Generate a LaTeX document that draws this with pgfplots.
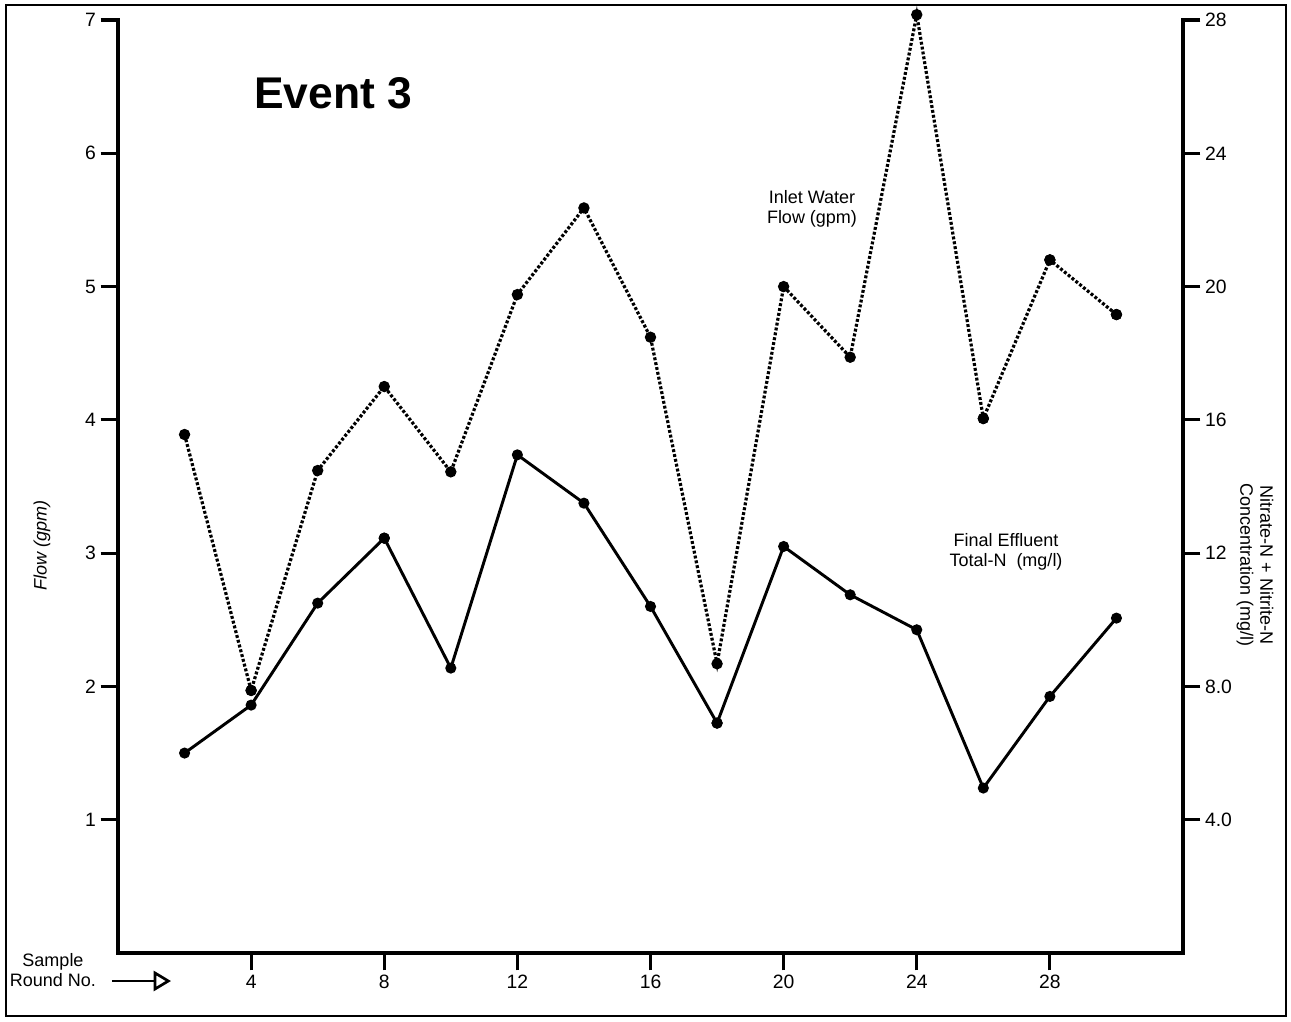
\documentclass[border=0pt]{standalone}
\usepackage{fontspec}
\setmainfont{Liberation Sans}
\usepackage{pgfplots}
\usepackage{pgfplotstable}
\pgfplotsset{compat=1.18}
\usetikzlibrary{arrows.meta}

\pgfplotstableread{
x y
2 3.89
4 1.97
6 3.62
8 4.25
10 3.61
12 4.94
14 5.59
16 4.62
18 2.17
20 5.00
22 4.47
24 7.04
26 4.01
28 5.20
30 4.79
}\inlet

\pgfplotstableread{
x y
2 6.0
4 7.44
6 10.5
8 12.45
10 8.55
12 14.95
14 13.5
16 10.4
18 6.9
20 12.2
22 10.75
24 9.7
26 4.95
28 7.7
30 10.05
}\effluent

\newcommand{\tickfont}{\fontsize{14.5}{17}\selectfont}
\newcommand{\labfont}{\fontsize{13.5}{15}\selectfont}

\begin{document}
\begin{tikzpicture}
\pgfplotsset{
  common/.style={
    at={(0,0)}, anchor=south west,
    scale only axis, width=798.75pt, height=699.75pt,
    xmin=0, xmax=32,
    axis line style={line width=3pt, line cap=rect},
    tick style={line width=2.4pt, black},
    major tick length=13pt,
    tick align=outside,
    /pgf/number format/assume math mode=true,
    ticklabel style={font=\tickfont},
    clip=false,
  }
}
\begin{axis}[common,
  ymin=0, ymax=7,
  axis x line*=bottom, axis y line*=left,
  xtick={4,8,...,28},
  ytick={1,2,...,7},
]
\addplot[black, line width=2.4pt, dash pattern=on 2.2pt off 1.5pt,
  mark=*, mark size=3pt, mark options={solid}] table[x=x,y=y]{\inlet};
\addplot[only marks, black, mark=*, mark size=4pt] coordinates {(4,1.97) (26,4.01) (28,5.20) (30,4.79)};
\end{axis}
\begin{axis}[common,
  ymin=0, ymax=28,
  axis x line=none, axis y line*=right,
  ytick={4,8,...,28},
  yticklabels={4.0,8.0,12,16,20,24,28},
]
\addplot[black, line width=2.2pt, mark=*, mark size=3pt] table[x=x,y=y]{\effluent};
\addplot[only marks, black, mark=*, mark size=4pt] coordinates {(8,12.45) (18,6.9)};
\end{axis}
\begin{scope}[x=0.75pt, y=-0.75pt, shift={(-118,-953)}]
  \useasboundingbox (0,0) rectangle (1291,1021);
  \draw[line width=1.5pt] (6,5) rectangle (1286,1016);
  \node[font=\fontsize{33.3}{38}\selectfont\bfseries] at (333,93) {Event 3};
  \node[font=\labfont, align=center] at (812,209) {Inlet Water\\Flow (gpm)};
  \node[font=\labfont, align=center] at (1006,552) {Final Effluent\\Total-N\ \ (mg/l)};
  \node[font=\labfont\itshape, rotate=90] at (42,545) {Flow (gpm)};
  \node[font=\labfont, align=center, rotate=-90] at (1255,565) {Nitrate-N + Nitrite-N\\Concentration (mg/l)};
  \node[font=\labfont, align=center] at (53,970) {Sample\\Round No.};
  \draw[line width=2pt, -{Triangle[open, length=13pt, width=15pt, line width=2pt]}] (112,981) -- (171,981);
\end{scope}
\end{tikzpicture}
\end{document}
